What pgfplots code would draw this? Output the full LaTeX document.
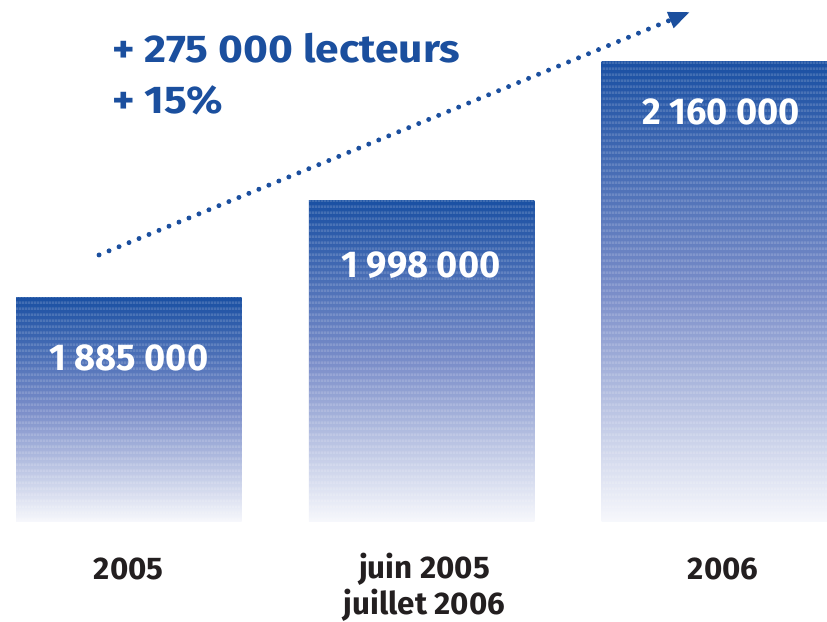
\documentclass[border=0pt]{standalone}
\usepackage{pgfplots}
\pgfplotsset{compat=1.18}
\usepackage{fontspec}
\setmainfont{Fira Sans}
\usetikzlibrary{patterns.meta,arrows.meta}
\definecolor{ablue}{HTML}{1B4F9E}
\definecolor{barTop}{HTML}{1A50A3}
\definecolor{barMid}{HTML}{7A8DC9}
\definecolor{barBot}{HTML}{F7F8FC}
\definecolor{dark}{HTML}{231F20}
\tikzdeclarepattern{name=hstripes, type=uncolored,
  bounding box={(0,0) and (2pt,4.5pt)}, tile size={(2pt,4.5pt)},
  code={\pgfpathrectangle{\pgfpointorigin}{\pgfpoint{2pt}{2.2pt}}\pgfusepath{fill}}}
\pgfplotsset{barstyle/.style={ybar, bar width=0.77, bar shift=0pt, draw=none,
  top color=barTop, bottom color=barBot, middle color=barMid,
  postaction={pattern=hstripes, pattern color=white, fill opacity=0.2}}}
\begin{document}
\begin{tikzpicture}
\begin{axis}[
  scale only axis, width=620.25pt, height=466.5pt,
  hide axis, clip=false,
  xmin=-0.44, xmax=2.385,
  ymin=-116.7, ymax=609.1,
  y filter/.expression={y-1623},
]
\path (rel axis cs:0,0) rectangle (rel axis cs:1,1);
\addplot[barstyle] coordinates {(0,1885)};
\addplot[barstyle] coordinates {(1,1998)};
\addplot[barstyle] coordinates {(2,2160)};
\draw[ablue, line width=3.7pt, line cap=round, dash pattern=on 0pt off 8.1pt,
  -{Triangle[length=16pt,width=12pt]}] (axis cs:-0.1016,311.6) -- (axis cs:1.917,595.1);
\node[anchor=base west, text=ablue, font=\bfseries\fontsize{29}{32}\selectfont\addfontfeature{FakeStretch=1.1}, inner sep=0pt]
  at (axis cs:-0.0574,535.6) {+ 275 000 lecteurs};
\node[anchor=base west, text=ablue, font=\bfseries\fontsize{29}{32}\selectfont\addfontfeature{FakeStretch=1.1}, inner sep=0pt]
  at (axis cs:-0.0574,477.2) {+ 15\%};
\tikzset{val/.style={text=white, font=\bfseries\fontsize{28}{32}\selectfont\addfontfeature{FakeStretch=0.97}, inner sep=0pt}}
\node[val] at (axis cs:0,191.4) {1 885 000};
\node[val] at (axis cs:0.998,299.9) {1 998 000};
\node[val] at (axis cs:2.023,478.4) {2 160 000};
\tikzset{cat/.style={text=dark, font=\bfseries\fontsize{23.5}{24}\selectfont, inner sep=0pt}}
\node[cat] at (axis cs:0,-54.8) {2005};
\node[cat] at (axis cs:1.01,-54.8) {juin 2005};
\node[cat] at (axis cs:1.01,-96.8) {juillet 2006};
\node[cat] at (axis cs:2.03,-54.8) {2006};
\end{axis}
\end{tikzpicture}
\end{document}
